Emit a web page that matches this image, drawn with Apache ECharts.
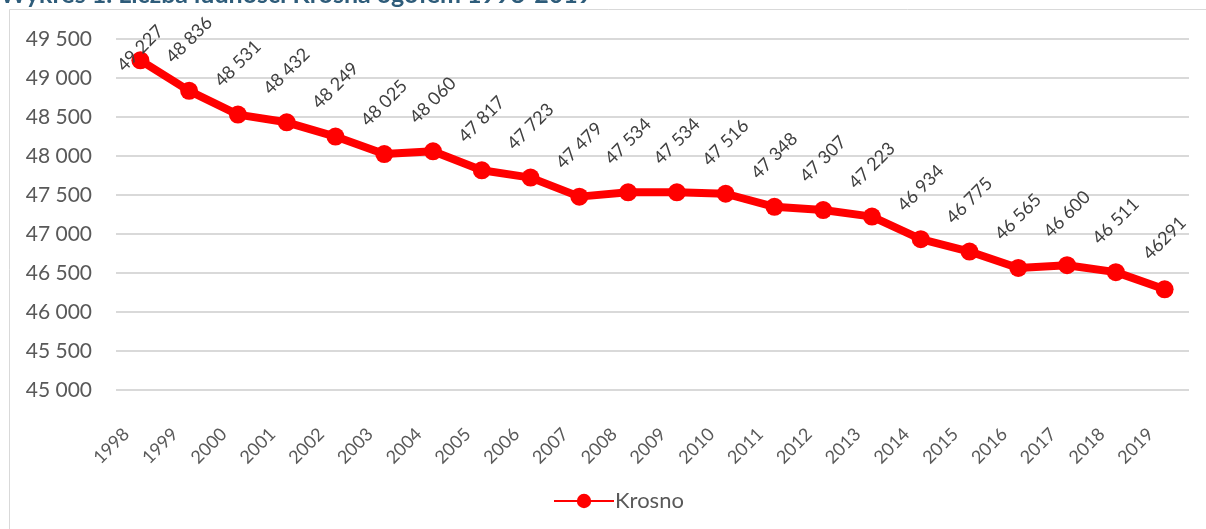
<!DOCTYPE html>
<html>
<head>
<meta charset="utf-8">
<script src="https://cdn.jsdelivr.net/npm/echarts@6/dist/echarts.min.js"></script>
<style>
html,body{margin:0;padding:0;background:#fff;}
#chart{width:1206px;height:529px;}
</style>
</head>
<body>
<div id="chart"></div>
<script>
const titleText = 'Wykres 1. Liczba ludności Krosna ogółem 1998-2019';
const seriesName = 'Krosno';
const years = ['1998','1999','2000','2001','2002','2003','2004','2005','2006','2007','2008','2009','2010','2011','2012','2013','2014','2015','2016','2017','2018','2019'];
const population = [49227,48836,48531,48432,48249,48025,48060,47817,47723,47479,47534,47534,47516,47348,47307,47223,46934,46775,46565,46600,46511,46291];
const valueLabels = ['49 227','48 836','48 531','48 432','48 249','48 025','48 060','47 817','47 723','47 479','47 534','47 534','47 516','47 348','47 307','47 223','46 934','46 775','46 565','46 600','46 511','46291'];
const yMin = 45000, yMax = 49500, yStep = 500;

const FONT = 'Lato, "Open Sans", sans-serif';
const chart = echarts.init(document.getElementById('chart'), null, {renderer:'canvas'});

const data = population.map((v, i) => {
  const item = {value: v, labelText: valueLabels[i]};
  if (i === 0) item.label = {distance: 3};
  return item;
});

chart.setOption({
  backgroundColor: '#ffffff',
  animation: false,
  graphic: [
    {type:'rect', shape:{x:9.5, y:9.5, width:1220, height:540}, style:{fill:'none', stroke:'#d9d9d9', lineWidth:1}, silent:true},
    {type:'text', left: 0, top: -18, style:{text: titleText, font: 'bold 25px ' + FONT, fill:'#2e5c7a'}, silent:true}
  ],
  grid: {left:116, right:17, top:39, bottom:139, containLabel:false},
  legend: {
    data:[seriesName], bottom: 12, left: 548,
    itemWidth: 60, itemHeight: 18, itemGap: 4,
    textStyle:{color:'#595959', fontSize:22, fontFamily: FONT, padding:[0,0,0,-4]}
  },
  xAxis: {
    type:'category', data: years, boundaryGap: true,
    axisLine:{show:false}, axisTick:{show:false},
    axisLabel:{rotate:45, color:'#595959', fontSize:18, fontFamily: FONT, margin:27, interval:0, padding:[0,20,0,0]}
  },
  yAxis: {
    type:'value', min:yMin, max:yMax, interval:yStep,
    axisLine:{show:false}, axisTick:{show:false},
    splitLine:{lineStyle:{color:'#d9d9d9', width:2}},
    axisLabel:{color:'#595959', fontSize:21, fontFamily: FONT, margin:24,
      formatter: v => String(v).replace(/\B(?=(\d{3})+(?!\d))/g, ' ')}
  },
  series: [{
    name: seriesName, type:'line', data: data,
    symbol:'circle', symbolSize:18,
    lineStyle:{color:'#ff0000', width:8},
    itemStyle:{color:'#ff0000'},
    label:{show:true, position:'top', distance:42, rotate:45, align:'center', verticalAlign:'middle',
      color:'#404040', fontSize:18, fontFamily: FONT,
      formatter: p => p.data.labelText}
  }]
});
</script>
</body>
</html>
